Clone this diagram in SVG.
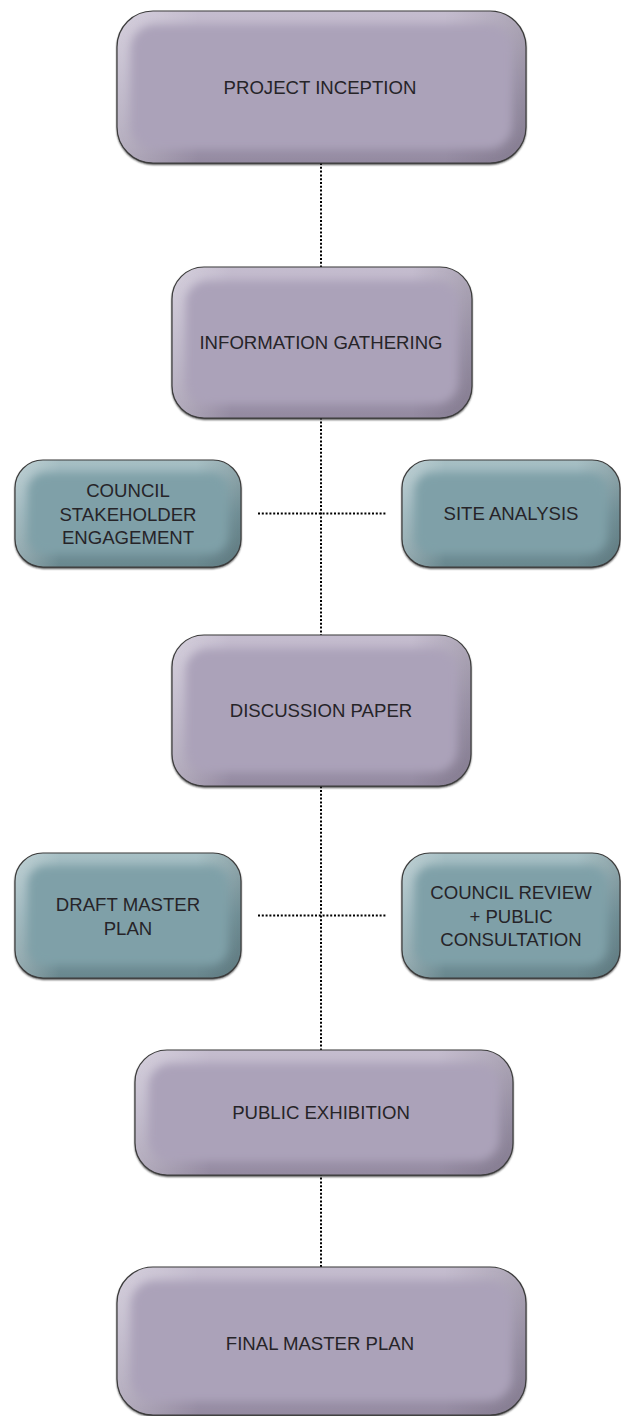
<svg xmlns="http://www.w3.org/2000/svg" width="621" height="1416" viewBox="0 0 621 1416">
<style>
.shadow{fill:#1a1a1a;filter:url(#sh);}
.outline{fill:none;stroke:#3c3c3c;stroke-width:1.2;}
.pbase{fill:url(#pv);}
.tbase{fill:url(#tv);}
.hov{fill:url(#hz);}
.pin{fill:#aba2b9;filter:url(#bl);}
.tin{fill:#7fa0a8;filter:url(#bl);}
.lbl{font-family:"Liberation Sans",Arial,Helvetica,sans-serif;font-size:18.6px;fill:#262428;text-anchor:middle;}
.dot{stroke:#000;stroke-width:2;stroke-dasharray:2 1.8;fill:none;}
</style>
<defs>
<linearGradient id="pv" x1="0" y1="0" x2="0" y2="1">
<stop offset="0" stop-color="#c5bdcf"/><stop offset="0.5" stop-color="#aba2b9"/><stop offset="1" stop-color="#948aa1"/>
</linearGradient>
<linearGradient id="tv" x1="0" y1="0" x2="0" y2="1">
<stop offset="0" stop-color="#a8c0c5"/><stop offset="0.5" stop-color="#7fa0a8"/><stop offset="1" stop-color="#69878e"/>
</linearGradient>
<linearGradient id="hz" x1="0" y1="0" x2="1" y2="0">
<stop offset="0" stop-color="#ffffff" stop-opacity="0.3"/><stop offset="0.2" stop-color="#ffffff" stop-opacity="0"/><stop offset="0.8" stop-color="#000000" stop-opacity="0"/><stop offset="1" stop-color="#000000" stop-opacity="0.12"/>
</linearGradient>
<filter id="bl" x="-20%" y="-30%" width="140%" height="160%"><feGaussianBlur stdDeviation="4.5"/></filter>
<filter id="sh" x="-10%" y="-10%" width="120%" height="130%"><feGaussianBlur stdDeviation="0.8"/></filter>
<clipPath id="c1"><rect x="117" y="11" width="409" height="152" rx="36"/></clipPath>
<clipPath id="c2"><rect x="172" y="267" width="300" height="151" rx="32"/></clipPath>
<clipPath id="c3"><rect x="15" y="460" width="226" height="107" rx="28"/></clipPath>
<clipPath id="c4"><rect x="402" y="460" width="218" height="107" rx="28"/></clipPath>
<clipPath id="c5"><rect x="172" y="635" width="299" height="151" rx="32"/></clipPath>
<clipPath id="c6"><rect x="15" y="853" width="226" height="125" rx="28"/></clipPath>
<clipPath id="c7"><rect x="402" y="853" width="218" height="125" rx="28"/></clipPath>
<clipPath id="c8"><rect x="135" y="1050" width="378" height="125" rx="32"/></clipPath>
<clipPath id="c9"><rect x="117" y="1267" width="409" height="148" rx="36"/></clipPath>
</defs>
<rect width="621" height="1416" fill="#ffffff"/>
<g id="connectors">
<line class="dot" x1="321" y1="163" x2="321" y2="1267"/>
<line class="dot" x1="258" y1="513.5" x2="386" y2="513.5"/>
<line class="dot" x1="258" y1="915.5" x2="386" y2="915.5"/>
</g>
<g id="project-inception">
<rect class="shadow" x="117" y="12.5" width="409" height="152" rx="36"/>
<g clip-path="url(#c1)">
<rect class="pbase" x="117" y="11" width="409" height="152"/>
<rect class="hov" x="117" y="11" width="409" height="152"/>
<rect class="pin" x="131" y="25" width="381" height="124" rx="24"/>
</g>
<rect class="outline" x="117" y="11" width="409" height="152" rx="36"/>
<text class="lbl" x="320" y="94">PROJECT INCEPTION</text>
</g>
<g id="information-gathering">
<rect class="shadow" x="172" y="268.5" width="300" height="151" rx="32"/>
<g clip-path="url(#c2)">
<rect class="pbase" x="172" y="267" width="300" height="151"/>
<rect class="hov" x="172" y="267" width="300" height="151"/>
<rect class="pin" x="186" y="281" width="272" height="123" rx="22"/>
</g>
<rect class="outline" x="172" y="267" width="300" height="151" rx="32"/>
<text class="lbl" x="321" y="349">INFORMATION GATHERING</text>
</g>
<g id="council-stakeholder-engagement">
<rect class="shadow" x="15" y="461.5" width="226" height="107" rx="28"/>
<g clip-path="url(#c3)">
<rect class="tbase" x="15" y="460" width="226" height="107"/>
<rect class="hov" x="15" y="460" width="226" height="107"/>
<rect class="tin" x="28" y="473" width="200" height="81" rx="18"/>
</g>
<rect class="outline" x="15" y="460" width="226" height="107" rx="28"/>
<text class="lbl" x="128" y="497">COUNCIL</text>
<text class="lbl" x="128" y="520.5">STAKEHOLDER</text>
<text class="lbl" x="128" y="544">ENGAGEMENT</text>
</g>
<g id="site-analysis">
<rect class="shadow" x="402" y="461.5" width="218" height="107" rx="28"/>
<g clip-path="url(#c4)">
<rect class="tbase" x="402" y="460" width="218" height="107"/>
<rect class="hov" x="402" y="460" width="218" height="107"/>
<rect class="tin" x="415" y="473" width="192" height="81" rx="18"/>
</g>
<rect class="outline" x="402" y="460" width="218" height="107" rx="28"/>
<text class="lbl" x="511" y="520">SITE ANALYSIS</text>
</g>
<g id="discussion-paper">
<rect class="shadow" x="172" y="636.5" width="299" height="151" rx="32"/>
<g clip-path="url(#c5)">
<rect class="pbase" x="172" y="635" width="299" height="151"/>
<rect class="hov" x="172" y="635" width="299" height="151"/>
<rect class="pin" x="186" y="649" width="271" height="123" rx="22"/>
</g>
<rect class="outline" x="172" y="635" width="299" height="151" rx="32"/>
<text class="lbl" x="321" y="717">DISCUSSION PAPER</text>
</g>
<g id="draft-master-plan">
<rect class="shadow" x="15" y="854.5" width="226" height="125" rx="28"/>
<g clip-path="url(#c6)">
<rect class="tbase" x="15" y="853" width="226" height="125"/>
<rect class="hov" x="15" y="853" width="226" height="125"/>
<rect class="tin" x="28" y="866" width="200" height="99" rx="18"/>
</g>
<rect class="outline" x="15" y="853" width="226" height="125" rx="28"/>
<text class="lbl" x="128" y="911">DRAFT MASTER</text>
<text class="lbl" x="128" y="934.5">PLAN</text>
</g>
<g id="council-review-public-consultation">
<rect class="shadow" x="402" y="854.5" width="218" height="125" rx="28"/>
<g clip-path="url(#c7)">
<rect class="tbase" x="402" y="853" width="218" height="125"/>
<rect class="hov" x="402" y="853" width="218" height="125"/>
<rect class="tin" x="415" y="866" width="192" height="99" rx="18"/>
</g>
<rect class="outline" x="402" y="853" width="218" height="125" rx="28"/>
<text class="lbl" x="511" y="899">COUNCIL REVIEW</text>
<text class="lbl" x="511" y="922.5">+ PUBLIC</text>
<text class="lbl" x="511" y="946">CONSULTATION</text>
</g>
<g id="public-exhibition">
<rect class="shadow" x="135" y="1051.5" width="378" height="125" rx="32"/>
<g clip-path="url(#c8)">
<rect class="pbase" x="135" y="1050" width="378" height="125"/>
<rect class="hov" x="135" y="1050" width="378" height="125"/>
<rect class="pin" x="149" y="1064" width="350" height="97" rx="22"/>
</g>
<rect class="outline" x="135" y="1050" width="378" height="125" rx="32"/>
<text class="lbl" x="321" y="1119">PUBLIC EXHIBITION</text>
</g>
<g id="final-master-plan">
<rect class="shadow" x="117" y="1268.5" width="409" height="148" rx="36"/>
<g clip-path="url(#c9)">
<rect class="pbase" x="117" y="1267" width="409" height="148"/>
<rect class="hov" x="117" y="1267" width="409" height="148"/>
<rect class="pin" x="131" y="1281" width="381" height="120" rx="24"/>
</g>
<rect class="outline" x="117" y="1267" width="409" height="148" rx="36"/>
<text class="lbl" x="320" y="1350">FINAL MASTER PLAN</text>
</g>
</svg>
